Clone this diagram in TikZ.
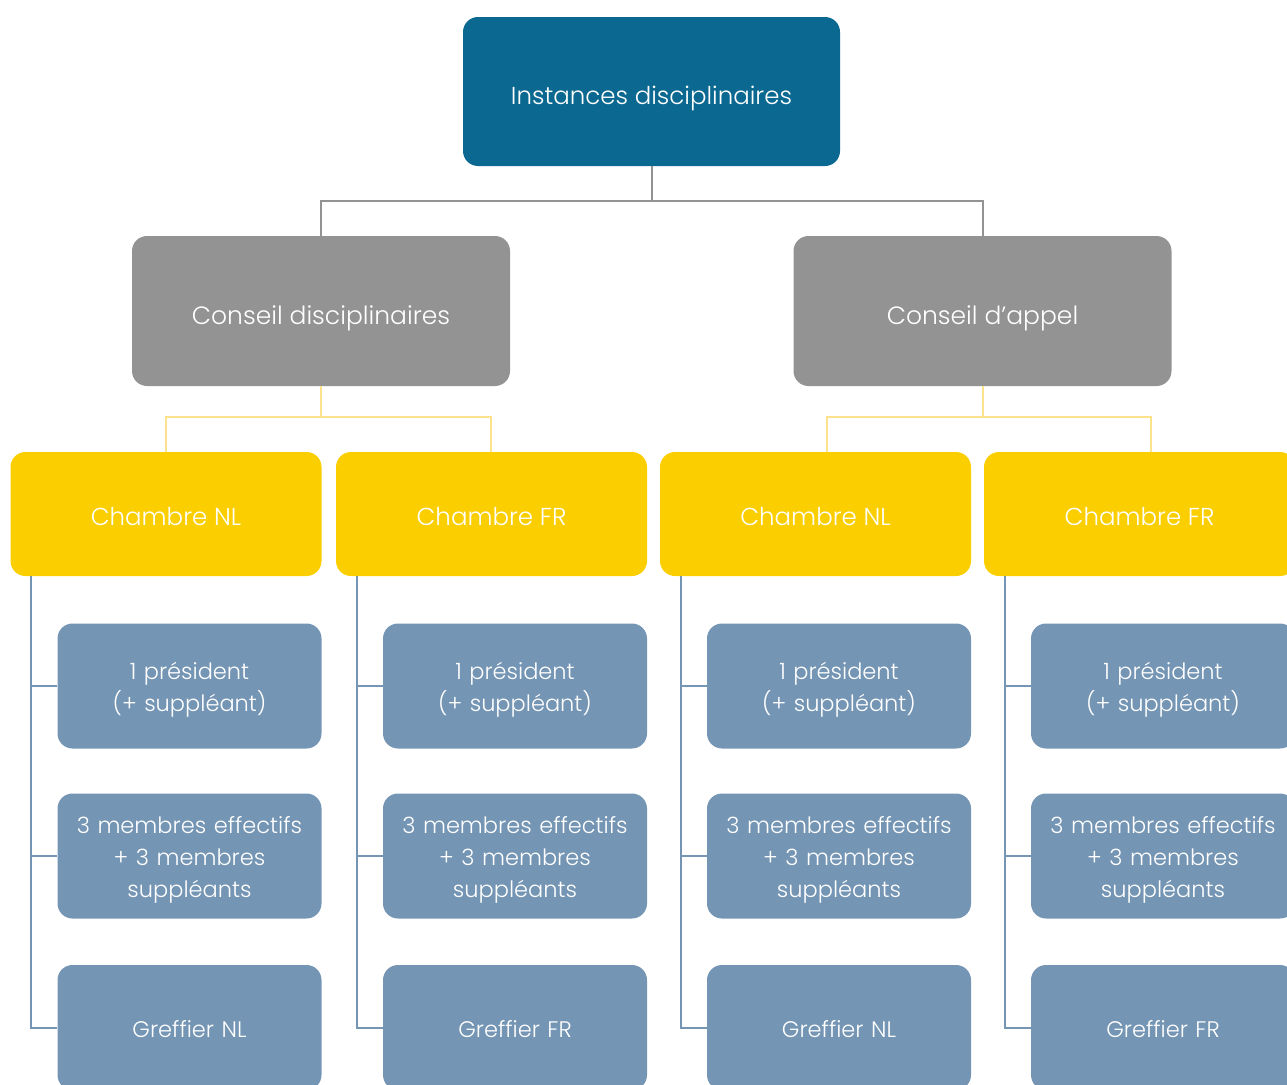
\documentclass[tikz,border=0pt]{standalone}
\usepackage{fontspec}
\setmainfont{Poppins}[UprightFont=* Light]
\definecolor{topblue}{RGB}{11,104,144}
\definecolor{boxgrey}{RGB}{147,147,147}
\definecolor{boxyellow}{RGB}{251,206,0}
\definecolor{lineyellow}{RGB}{252,226,140}
\definecolor{boxblue}{RGB}{116,149,180}
\newcommand{\memberstrut}{\rule[-6.5pt]{0pt}{32pt}}
\tikzset{
    box/.style={rounded corners=15pt,inner sep=0pt,align=center,text=white},
    topbox/.style={box,fill=topblue,minimum width=377pt,minimum height=149pt,text height=25pt,text depth=0pt,font=\fontsize{24.5}{30}\selectfont},
    greybox/.style={box,fill=boxgrey,minimum width=378pt,minimum height=150pt,text height=26pt,text depth=0pt,font=\fontsize{25}{30}\selectfont},
    chamberbox/.style={box,fill=boxyellow,minimum width=311pt,minimum height=124pt,text height=23.5pt,text depth=0pt,font=\fontsize{24.5}{30}\selectfont},
    memberbox/.style={box,fill=boxblue,minimum width=264pt,minimum height=125pt,text width=250pt,font=\fontsize{22.5}{32}\selectfont,
        execute at begin node=\memberstrut,execute at end node=\memberstrut},
    greyline/.style={draw=boxgrey,line width=2pt},
    yellowline/.style={draw=lineyellow,line width=2pt},
    blueline/.style={draw=boxblue,line width=2pt},
}
\begin{document}
\begin{tikzpicture}[x=1pt,y=-1pt]
        \useasboundingbox (0,0) rectangle (1287,1084);
        \node[topbox] (inst) at (651.5,91.5) {Instances disciplinaires};
        \node[greybox] (cdis) at (321,311) {Conseil disciplinaires};
        \node[greybox] (capp) at (982.5,311) {Conseil d’appel};
        \draw[greyline] (inst.south) -- ++(0,35) -| (cdis.north);
        \draw[greyline] (inst.south) -- ++(0,35) -| (capp.north);
        \foreach \n/\x/\lang/\up/\off in {a/166/NL/cdis/0,b/491.5/FR/cdis/-1,c/815.5/NL/capp/11,d/1139.5/FR/capp/11} {
            \node[chamberbox] (ch\n) at (\x,514) {Chambre \lang};
            \draw[yellowline] (\up.south) -- ++(0,31) -| ([xshift=\off]ch\n.north);
            \node[memberbox] (pr\n) at (\x+23.5,686) {1 président\\(+ suppléant)};
            \node[memberbox] (me\n) at (\x+23.5,856) {3 membres effectifs\\+ 3 membres\\suppléants};
            \node[memberbox] (gr\n) at (\x+23.5,1027.5) {Greffier \lang};
            \draw[blueline] (ch\n.south west) ++(21,0) |- (gr\n.west);
            \draw[blueline] (pr\n.west) -- ++(-27,0);
            \draw[blueline] (me\n.west) -- ++(-27,0);
        }
    \end{tikzpicture}
\end{document}
